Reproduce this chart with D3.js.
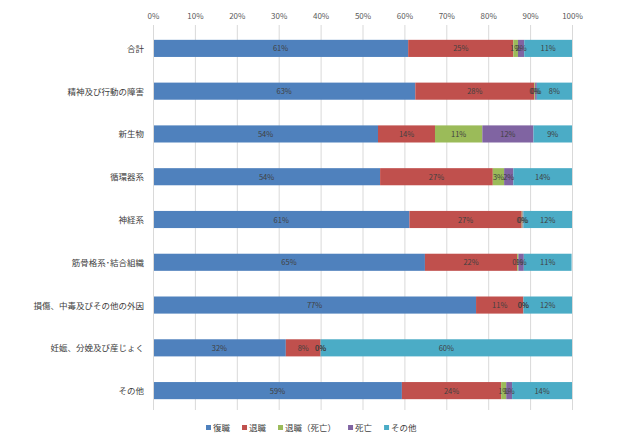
<!DOCTYPE html>
<html><head><meta charset="utf-8">
<script src="https://cdn.jsdelivr.net/npm/d3@7"></script>
<style>body{margin:0;background:#fff}svg{display:block}text{font-family:"Noto Sans CJK JP","Noto Sans",sans-serif}</style>
</head><body>
<svg id="c" width="620" height="446"></svg>
<script>
const categories = ["合計","精神及び行動の障害","新生物","循環器系","神経系","筋骨格系･結合組織","損傷、中毒及びその他の外因","妊娠、分娩及び産じょく","その他"];
const seriesNames = ["復職","退職","退職（死亡）","死亡","その他"];
const fukushoku = [60.9, 62.6, 53.7, 54.2, 61.2, 64.9, 77.1, 31.7, 59.4];
const taishoku  = [25.1, 28.4, 13.6, 26.9, 26.8, 22.0, 11.3, 8.3, 23.7];
const taishokuShibo = [1.1, 0.2, 11.3, 2.7, 0.2, 0.3, 0.0, 0.0, 1.2];
const shibo     = [1.5, 0.4, 12.2, 2.2, 0.2, 1.3, 0.0, 0.0, 1.4];
const sonota    = [11.4, 8.4, 9.2, 14.0, 11.6, 11.4, 11.6, 60.0, 14.3];
const tickLabels = ["0%","10%","20%","30%","40%","50%","60%","70%","80%","90%","100%"];
const colors = ["#4F81BD","#C0504D","#9BBB59","#8064A2","#4BACC6"];

const seriesVals = [fukushoku, taishoku, taishokuShibo, shibo, sonota];
const rows = categories.map((c,i)=>{const o={cat:c}; seriesNames.forEach((s,j)=>o[s]=seriesVals[j][i]); return o;});
const stacked = d3.stack().keys(seriesNames)(rows);

const svg = d3.select("#c");
const m = {left:153, right:572, top:27, bottom:412};
const x = d3.scaleLinear().domain([0,100]).range([m.left,m.right]);
const y = d3.scaleBand().domain(categories).range([m.top,m.bottom]).paddingInner(0.6).paddingOuter(0.3);

// gridlines
svg.append("g").selectAll("line").data(d3.range(10,101,10)).join("line")
  .attr("x1",d=>x(d)+0.5).attr("x2",d=>x(d)+0.5).attr("y1",m.top-2).attr("y2",m.bottom-2)
  .attr("stroke","#d9d9d9").attr("stroke-width",1);

// top axis labels
const ax = d3.axisTop(x).tickValues(d3.range(0,101,10)).tickFormat((d,i)=>tickLabels[i]).tickSize(0).tickPadding(0);
const axg = svg.append("g").attr("transform",`translate(0,19)`).call(ax);
axg.select(".domain").remove();
axg.selectAll("text").attr("font-size",8).attr("fill","#595959").attr("font-family",'"Liberation Sans","DejaVu Sans",sans-serif');

// bars
const g = svg.append("g");
stacked.forEach((s,j)=>{
  g.append("g").selectAll("rect").data(s).join("rect")
    .attr("x",d=>x(d[0])).attr("width",d=>Math.max(0,x(d[1])-x(d[0])))
    .attr("y",(d,i)=>y(categories[i])).attr("height",y.bandwidth())
    .attr("fill",colors[j]);
});
// labels
stacked.forEach((s,j)=>{
  g.append("g").selectAll("text").data(s).join("text")
    .attr("x",d=>(x(d[0])+x(d[1]))/2).attr("y",(d,i)=>y(categories[i])+y.bandwidth()/2+3)
    .attr("text-anchor","middle").attr("font-size",7.5).attr("fill","#404040")
    .attr("font-family",'"Liberation Sans","DejaVu Sans",sans-serif')
    .text(d=>Math.round(d[1]-d[0])+"%");
});

// left axis line
svg.append("line").attr("x1",m.left+0.5).attr("x2",m.left+0.5).attr("y1",m.top-2).attr("y2",m.bottom-2).attr("stroke","#d9d9d9");

// category labels
svg.append("g").selectAll("text").data(categories).join("text")
  .attr("x",144).attr("y",d=>y(d)+y.bandwidth()/2+3.5).attr("text-anchor","end")
  .attr("font-size",8.5).attr("fill","#404040").text(d=>d);

// legend
const lg = svg.append("g");
let lx = 206;
seriesNames.forEach((s,j)=>{
  const it = lg.append("g").attr("transform",`translate(${lx},431)`);
  it.append("rect").attr("x",0).attr("y",-6).attr("width",5).attr("height",5).attr("fill",colors[j]);
  const t = it.append("text").attr("x",7).attr("y",0).attr("font-size",8.5).attr("fill","#404040").text(s);
  lx += 7 + t.node().getComputedTextLength() + 12;
});
</script>
</body></html>
